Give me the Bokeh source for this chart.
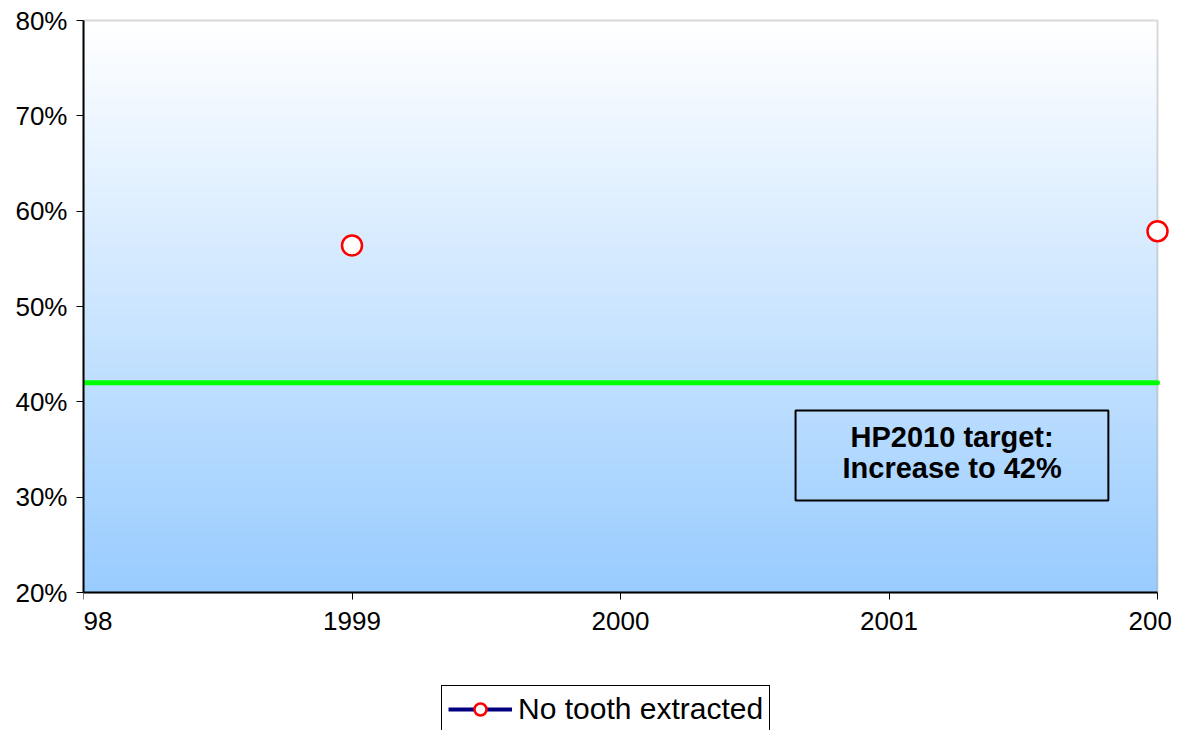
from bokeh.plotting import figure
from bokeh.models import (BoxAnnotation, Label, Legend, LegendItem,
                          NumeralTickFormatter, FixedTicker, Range1d)
from bokeh.embed import file_html
from bokeh.resources import INLINE

# ---- data ----
years = [1998, 1999, 2000, 2001, 2002]
no_tooth_extracted = [float("nan"), 0.564, float("nan"), float("nan"), 0.579]
target = 0.42
series_label = "No tooth extracted"
y_ticks = [0.2, 0.3, 0.4, 0.5, 0.6, 0.7, 0.8]
x_ticks = [1998, 1999, 2000, 2001, 2002]
note_lines = ["HP2010 target:", "Increase to 42%"]

FONT = "Liberation Sans"
X0, X1 = x_ticks[0], x_ticks[-1]
Y0, Y1 = y_ticks[0], y_ticks[-1]
PX_X = (X1 - X0) / 1074.0   # data units per pixel
PX_Y = (Y1 - Y0) / 572.0
EXTRA_BOTTOM = 143           # room under the plot area for axis labels + legend

p = figure(frame_width=1074 + 14, frame_height=572 + 3 + EXTRA_BOTTOM,
           output_backend="svg", toolbar_location=None,
           x_range=Range1d(X0, X1 + 14 * PX_X),
           y_range=Range1d(Y0 - EXTRA_BOTTOM * PX_Y, Y1 + 3 * PX_Y),
           min_border_left=83, min_border_right=17, min_border_top=17,
           min_border_bottom=0)
p.background_fill_color = "white"
p.border_fill_color = "white"
p.outline_line_color = None
p.grid.visible = False

# gradient background (white at top -> #99CCFF at bottom)
n = 120
for i in range(n):
    t = i / (n - 1)
    r = int(round(255 + (153 - 255) * t))
    g = int(round(255 + (204 - 255) * t))
    top = Y1 - ((Y1 - Y0) * i / n)
    bot = Y1 - ((Y1 - Y0) * (i + 1) / n) - 0.001
    p.add_layout(BoxAnnotation(left=X0, right=X1, bottom=max(bot, Y0), top=top,
                               fill_color="#%02x%02x%02x" % (r, g, 255),
                               fill_alpha=1, line_alpha=0, level="underlay"))
# plot-area border (gray; left/bottom covered by the axes)
p.add_layout(BoxAnnotation(left=X0, right=X1, bottom=Y0, top=Y1, fill_alpha=0,
                           line_color="#808080", line_width=2, level="underlay"))

# target line
p.line([X0, X1], [target, target], line_color="#00FF00", line_width=5,
       line_cap="round")

# series
ln = p.line(years, no_tooth_extracted, line_color="#000080", line_width=4)
sc = p.scatter(years, no_tooth_extracted, size=20, marker="circle",
               line_color="#FF0000", line_width=2.5, fill_color="white")

# annotation box
p.add_layout(BoxAnnotation(left=2000.652, right=2001.817, bottom=0.2965, top=0.391,
                           fill_alpha=0, line_color="black", line_alpha=1,
                           line_width=2))
p.add_layout(Label(x=2001.235, y=0.3635, text=note_lines[0], text_align="center",
                   text_baseline="middle", text_font=FONT, text_color="black",
                   text_font_size="29px", text_font_style="bold"))
p.add_layout(Label(x=2001.235, y=0.331, text=note_lines[1], text_align="center",
                   text_baseline="middle", text_font=FONT, text_color="black",
                   text_font_size="29px", text_font_style="bold"))

# axes
p.yaxis.ticker = FixedTicker(ticks=y_ticks)
p.yaxis.formatter = NumeralTickFormatter(format="0%")
p.xaxis.ticker = FixedTicker(ticks=x_ticks)
p.xaxis.bounds = (X0, X1)
p.yaxis.bounds = (Y0, Y1)
p.xaxis.fixed_location = Y0
for ax in (p.xaxis, p.yaxis):
    ax.axis_line_color = "black"
    ax.axis_line_width = 2
    ax.major_tick_line_color = "black"
    ax.major_tick_line_width = 1
    ax.major_tick_in = 0
    ax.major_tick_out = 7
    ax.minor_tick_line_color = None
    ax.major_label_text_font = FONT
    ax.major_label_text_font_size = "26px"
    ax.major_label_text_color = "black"
p.yaxis.major_label_standoff = 9
p.xaxis.major_label_standoff = 12

legend = Legend(items=[LegendItem(label=series_label, renderers=[ln, sc])],
                location=(358, 2), orientation="horizontal",
                label_text_font=FONT, label_text_font_size="30px",
                label_text_color="black",
                glyph_width=64, glyph_height=30, label_standoff=6,
                padding=6, spacing=0, margin=0,
                border_line_color="black", border_line_width=1, border_line_alpha=1,
                background_fill_color="white", background_fill_alpha=1)
p.add_layout(legend)

open("out.html", "w").write(file_html(p, INLINE))
